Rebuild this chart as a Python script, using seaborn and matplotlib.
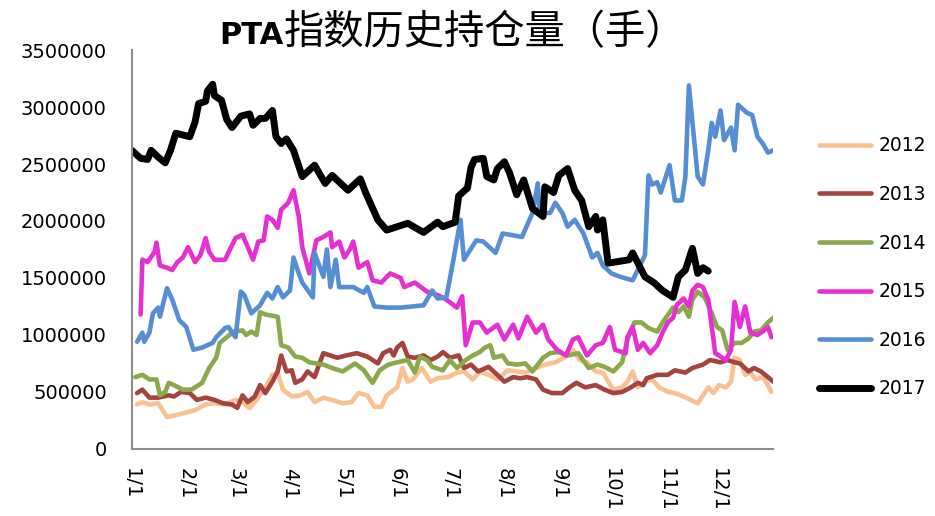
import numpy as np
import pandas as pd
import matplotlib
matplotlib.use('Agg')
import matplotlib.pyplot as plt
import seaborn as sns

# open interest, in millions of lots; x = day of year (0 = Jan 1)
days_2012 = [3, 6, 10, 15, 20, 26, 31, 36, 42, 47, 53, 59, 63, 67, 71, 76, 80, 83, 86, 91, 96, 100, 104, 109, 114,
             120, 125, 129, 134, 138, 142, 145, 151, 154, 157, 160, 165, 170, 174, 180, 185, 189, 194, 198, 203, 208,
             214, 219, 224, 230, 235, 241, 247, 251, 255, 259, 264, 268, 274, 279, 282, 285, 288, 292, 296, 300, 305,
             309, 314, 318, 322, 325, 328, 331, 334, 338, 341, 343, 346, 349, 352, 355, 359, 362, 364]
oi_2012 = [0.39, 0.41, 0.39, 0.40, 0.28, 0.30, 0.32, 0.34, 0.39, 0.40, 0.39, 0.43, 0.41, 0.36, 0.43, 0.54, 0.65, 0.67,
           0.52, 0.46, 0.47, 0.50, 0.41, 0.45, 0.43, 0.40, 0.41, 0.49, 0.47, 0.37, 0.37, 0.47, 0.54, 0.71, 0.59, 0.61,
           0.71, 0.59, 0.62, 0.63, 0.67, 0.68, 0.61, 0.68, 0.65, 0.61, 0.69, 0.68, 0.67, 0.71, 0.74, 0.76, 0.81, 0.87,
           0.78, 0.76, 0.68, 0.67, 0.52, 0.54, 0.59, 0.68, 0.54, 0.59, 0.61, 0.54, 0.50, 0.49, 0.46, 0.43, 0.40, 0.47,
           0.54, 0.49, 0.56, 0.54, 0.59, 0.80, 0.78, 0.65, 0.67, 0.61, 0.63, 0.56, 0.50]

days_2013 = [3, 6, 10, 15, 21, 24, 28, 33, 37, 42, 47, 52, 57, 60, 63, 66, 70, 73, 76, 80, 83, 85, 88, 91, 93, 97,
             100, 104, 107, 109, 113, 117, 122, 128, 134, 140, 143, 147, 149, 151, 154, 157, 161, 166, 170, 174, 177,
             181, 186, 189, 193, 197, 203, 208, 212, 217, 221, 225, 230, 234, 239, 245, 249, 253, 258, 264, 269, 274,
             279, 284, 288, 291, 293, 299, 305, 309, 315, 319, 325, 329, 335, 339, 343, 346, 351, 354, 358, 362, 365]
oi_2013 = [0.49, 0.52, 0.45, 0.45, 0.47, 0.46, 0.50, 0.49, 0.43, 0.45, 0.43, 0.40, 0.39, 0.36, 0.47, 0.41, 0.46, 0.56,
           0.49, 0.59, 0.68, 0.82, 0.68, 0.69, 0.58, 0.61, 0.68, 0.63, 0.76, 0.84, 0.82, 0.80, 0.82, 0.84, 0.81, 0.75,
           0.84, 0.87, 0.82, 0.89, 0.93, 0.81, 0.80, 0.82, 0.78, 0.81, 0.85, 0.80, 0.82, 0.71, 0.74, 0.68, 0.72, 0.65,
           0.59, 0.63, 0.62, 0.63, 0.61, 0.52, 0.49, 0.49, 0.54, 0.58, 0.54, 0.56, 0.52, 0.49, 0.50, 0.54, 0.58, 0.56,
           0.62, 0.65, 0.65, 0.69, 0.67, 0.71, 0.74, 0.78, 0.76, 0.78, 0.76, 0.75, 0.68, 0.71, 0.68, 0.63, 0.59]

days_2014 = [2, 6, 10, 14, 16, 19, 21, 24, 29, 34, 40, 44, 48, 50, 54, 58, 63, 65, 68, 71, 73, 76, 83, 85, 89, 93,
             97, 101, 109, 114, 120, 127, 132, 137, 141, 146, 151, 157, 161, 164, 168, 171, 177, 181, 185, 190, 194,
             198, 201, 204, 206, 211, 214, 219, 224, 228, 234, 238, 243, 248, 254, 260, 265, 269, 274, 279, 282, 286,
             290, 294, 299, 302, 308, 311, 314, 317, 319, 322, 326, 330, 333, 336, 339, 343, 347, 351, 354, 358, 362,
             365]
oi_2014 = [0.63, 0.65, 0.61, 0.61, 0.47, 0.50, 0.58, 0.56, 0.52, 0.52, 0.58, 0.71, 0.80, 0.93, 0.98, 1.03, 1.04, 1.00,
           1.03, 1.00, 1.20, 1.18, 1.16, 0.91, 0.89, 0.81, 0.80, 0.76, 0.74, 0.71, 0.68, 0.75, 0.69, 0.58, 0.69, 0.74,
           0.76, 0.78, 0.67, 0.81, 0.78, 0.72, 0.69, 0.78, 0.71, 0.78, 0.82, 0.85, 0.89, 0.91, 0.80, 0.82, 0.75, 0.74,
           0.75, 0.68, 0.80, 0.84, 0.85, 0.82, 0.84, 0.71, 0.74, 0.72, 0.68, 0.76, 0.96, 1.11, 1.11, 1.06, 1.03, 1.11,
           1.24, 1.20, 1.25, 1.16, 1.31, 1.38, 1.33, 1.19, 1.07, 1.04, 0.87, 0.93, 0.93, 0.97, 1.03, 1.04, 1.11, 1.15]

days_2015 = [5, 6, 9, 13, 14, 16, 20, 23, 26, 29, 32, 36, 39, 42, 44, 47, 53, 59, 63, 69, 72, 75, 77, 80, 83, 85,
             89, 92, 95, 97, 101, 105, 109, 113, 114, 118, 121, 124, 126, 129, 134, 137, 142, 147, 153, 155, 161, 168,
             174, 179, 185, 188, 190, 194, 198, 202, 208, 212, 217, 220, 225, 230, 234, 237, 242, 247, 251, 254, 259,
             264, 268, 272, 275, 281, 282, 285, 288, 291, 295, 299, 302, 305, 308, 310, 314, 317, 319, 322, 325, 328,
             332, 335, 338, 341, 343, 346, 349, 352, 356, 359, 362, 364]
oi_2015 = [1.18, 1.66, 1.64, 1.73, 1.81, 1.61, 1.59, 1.57, 1.64, 1.68, 1.77, 1.64, 1.70, 1.85, 1.73, 1.66, 1.66, 1.85,
           1.88, 1.66, 1.82, 1.83, 2.04, 2.01, 1.94, 2.10, 2.16, 2.27, 2.04, 1.77, 1.54, 1.83, 1.86, 1.90, 1.77, 1.82,
           1.68, 1.75, 1.82, 1.59, 1.64, 1.48, 1.46, 1.54, 1.50, 1.42, 1.46, 1.38, 1.35, 1.31, 1.24, 1.34, 0.91, 1.11,
           1.11, 1.02, 1.09, 0.96, 1.09, 0.97, 1.16, 1.02, 1.09, 0.96, 0.87, 0.82, 0.96, 0.98, 0.82, 0.91, 0.93, 1.07,
           0.87, 0.84, 0.98, 1.07, 0.87, 0.93, 0.84, 0.91, 1.02, 1.11, 1.15, 1.26, 1.32, 1.25, 1.39, 1.44, 1.42, 1.31,
           0.84, 0.81, 0.78, 0.87, 1.29, 1.07, 1.25, 1.02, 1.00, 1.03, 1.07, 0.98]

days_2016 = [3, 6, 7, 10, 12, 15, 16, 20, 23, 27, 31, 35, 40, 46, 48, 53, 55, 59, 62, 64, 68, 73, 77, 80, 83, 86,
             90, 92, 95, 97, 103, 104, 109, 111, 113, 116, 118, 126, 132, 134, 138, 145, 153, 166, 171, 174, 179, 183,
             187, 189, 196, 200, 207, 211, 215, 222, 228, 231, 232, 238, 241, 245, 248, 252, 257, 262, 265, 268, 273,
             278, 285, 292, 294, 296, 299, 301, 306, 309, 313, 315, 317, 322, 325, 328, 330, 332, 335, 337, 341, 343,
             345, 350, 353, 356, 359, 362, 365]
oi_2016 = [0.94, 1.02, 0.94, 1.02, 1.19, 1.24, 1.16, 1.41, 1.31, 1.13, 1.07, 0.87, 0.89, 0.93, 0.98, 1.06, 1.07, 0.98,
           1.38, 1.35, 1.19, 1.26, 1.37, 1.32, 1.42, 1.33, 1.39, 1.68, 1.54, 1.46, 1.33, 1.72, 1.51, 1.75, 1.42, 1.66,
           1.42, 1.42, 1.37, 1.42, 1.25, 1.24, 1.24, 1.26, 1.39, 1.32, 1.33, 1.66, 2.01, 1.66, 1.83, 1.82, 1.72, 1.89,
           1.88, 1.86, 2.07, 2.33, 2.07, 2.07, 2.16, 2.07, 1.95, 2.01, 1.89, 1.68, 1.72, 1.61, 1.54, 1.51, 1.48, 1.70,
           2.40, 2.32, 2.34, 2.25, 2.49, 2.18, 2.18, 2.39, 3.19, 2.39, 2.32, 2.62, 2.86, 2.74, 2.97, 2.71, 2.82, 2.62,
           3.02, 2.95, 2.93, 2.74, 2.68, 2.60, 2.62]

days_2017 = [0, 5, 9, 11, 15, 19, 22, 25, 33, 36, 38, 42, 43, 46, 47, 51, 54, 57, 62, 67, 69, 73, 76, 80, 82, 85,
             88, 92, 97, 104, 110, 114, 123, 130, 133, 140, 145, 153, 157, 166, 174, 177, 184, 186, 191, 193, 195,
             200, 202, 206, 208, 212, 215, 219, 223, 226, 228, 234, 235, 240, 243, 248, 252, 256, 260, 264, 265, 268,
             271, 283, 285, 292, 297, 302, 308, 311, 315, 319, 322, 325, 328]
oi_2017 = [2.62, 2.55, 2.54, 2.62, 2.56, 2.51, 2.62, 2.77, 2.74, 2.87, 3.03, 3.05, 3.14, 3.20, 3.10, 3.06, 2.89, 2.82,
           2.92, 2.94, 2.84, 2.90, 2.90, 2.97, 2.74, 2.68, 2.72, 2.62, 2.39, 2.49, 2.33, 2.40, 2.27, 2.37, 2.25, 2.01,
           1.92, 1.96, 1.98, 1.90, 1.99, 1.95, 1.99, 2.22, 2.29, 2.47, 2.54, 2.55, 2.39, 2.36, 2.46, 2.52, 2.42, 2.23,
           2.36, 2.21, 2.11, 2.04, 2.30, 2.25, 2.40, 2.46, 2.27, 2.18, 1.95, 2.04, 1.92, 2.01, 1.63, 1.66, 1.72, 1.51,
           1.46, 1.39, 1.33, 1.51, 1.57, 1.76, 1.54, 1.59, 1.56]

years = ['2012', '2013', '2014', '2015', '2016', '2017']
series_days = [days_2012, days_2013, days_2014, days_2015, days_2016, days_2017]
series_oi = [oi_2012, oi_2013, oi_2014, oi_2015, oi_2016, oi_2017]

colors = {'2012': '#FAC090', '2013': '#A5433F', '2014': '#8BA84A',
          '2015': '#E62ED3', '2016': '#558ED5', '2017': '#000000'}
widths = {'2012': 3.3, '2013': 3.3, '2014': 3.3, '2015': 3.3, '2016': 3.3, '2017': 5.0}

month_starts = [0, 31, 59, 90, 120, 151, 181, 212, 243, 273, 304, 334]
month_labels = ['1/1', '2/1', '3/1', '4/1', '5/1', '6/1', '7/1', '8/1', '9/1', '10/1', '11/1', '12/1']
yticks = np.arange(0, 3500001, 500000)

frames = []
for yr, d, v in zip(years, series_days, series_oi):
    frames.append(pd.DataFrame({'day': d, 'oi': np.array(v) * 1e6, 'year': yr}))
df = pd.concat(frames, ignore_index=True)

sns.set_style('white')
plt.rcParams['font.family'] = ['DejaVu Sans']
plt.rcParams['text.color'] = 'black'

fig = plt.figure(figsize=(9.35, 5.16), dpi=100)
ax = fig.add_axes([0.141, 0.130, 0.686, 0.773])

for yr in years:
    sns.lineplot(data=df[df['year'] == yr], x='day', y='oi', color=colors[yr], linewidth=widths[yr],
                 estimator=None, sort=True, label=yr, ax=ax,
                 solid_capstyle='round', solid_joinstyle='round')

ax.set_xlim(0, 365)
ax.set_ylim(0, 3500000)
ax.set_xticks(month_starts)
ax.set_xticklabels(month_labels, rotation=-90, ha='center', va='top')
ax.set_yticks(yticks)
ax.set_yticklabels([str(int(t)) for t in yticks])
ax.set_xlabel('')
ax.set_ylabel('')

for s in ['top', 'right']:
    ax.spines[s].set_visible(False)
for s in ['left', 'bottom']:
    ax.spines[s].set_color('#8c8c8c')
    ax.spines[s].set_linewidth(1.5)
ax.tick_params(axis='both', direction='in', length=6, width=1.3, color='#8c8c8c',
               labelsize=14, labelcolor='black')
ax.tick_params(axis='x', pad=14)
ax.tick_params(axis='y', pad=18)

ax.legend(loc='center left', bbox_to_anchor=(1.045, 0.455), frameon=False, fontsize=13.5,
          handlelength=2.8, handletextpad=0.4, labelspacing=1.58, labelcolor='black')

fig.text(0.303, 0.915, 'PTA', fontsize=22, fontweight='bold', ha='right', va='baseline')
fig.text(0.303, 0.915, '指数历史持仓量（手）', fontsize=29, ha='left', va='baseline',
         family=['Noto Sans CJK SC', 'DejaVu Sans'])

plt.savefig('out.png', dpi=100)
